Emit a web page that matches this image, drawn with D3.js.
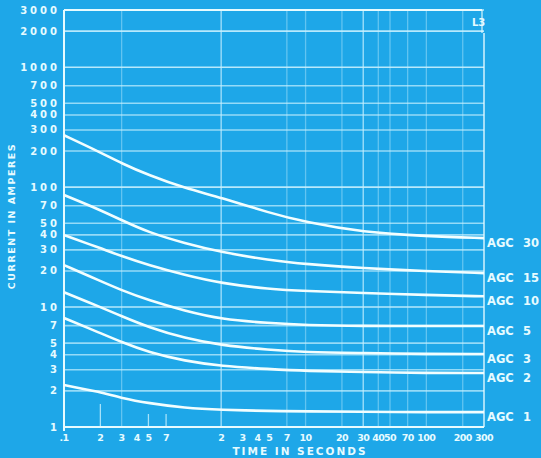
<!DOCTYPE html>
<html><head><meta charset="utf-8">
<script src="https://cdn.jsdelivr.net/npm/d3@7"></script>
<style>html,body{margin:0;padding:0;background:#1ea7e8;}svg{display:block;}</style>
</head><body>
<svg id="c" width="541" height="458"></svg>
<script>
// ---- data ----
const timeSec = [0.1, 0.2, 0.3, 0.5, 1, 2, 5, 10, 30, 100, 300];
const seriesNames = ["30", "15", "10", "5", "3", "2", "1"];
const agc30 = [271, 195, 158, 126, 98, 82, 61, 51, 42, 39, 37.6];
const agc15 = [86, 64.5, 53, 42, 34, 28.7, 24.6, 22.8, 21.1, 19.9, 19.2];
const agc10 = [39.8, 31, 26.6, 22.4, 18.5, 15.8, 14.1, 13.6, 13.1, 12.6, 12.3];
const agc5 = [22.4, 16.5, 13.8, 11.4, 9.3, 7.9, 7.35, 7.07, 6.95, 6.95, 6.95];
const agc3 = [13.3, 10, 8.4, 6.8, 5.5, 4.8, 4.4, 4.2, 4.14, 4.06, 4.06];
const agc2 = [8.1, 6.07, 5.1, 4.2, 3.55, 3.22, 3.04, 2.93, 2.87, 2.82, 2.82];
const agc1 = [2.24, 1.96, 1.74, 1.58, 1.44, 1.39, 1.36, 1.35, 1.34, 1.33, 1.33];
const yTicks = [1, 2, 3, 4, 5, 7, 10, 20, 30, 40, 50, 70, 100, 200, 300, 400, 500, 700, 1000, 2000, 3000];
const xTicks = [0.1, 0.2, 0.3, 0.4, 0.5, 0.7, 2, 3, 4, 5, 7, 10, 20, 30, 40, 50, 70, 100, 200, 300];
const xTickLabels = [".1", "2", "3", "4", "5", "7", "2", "3", "4", "5", "7", "10", "20", "30", "40", "50", "70", "100", "200", "300"];
const xGrid = [0.3, 2, 7, 10, 20, 30, 40, 50, 70, 100, 200];
const xShortTicks = [0.2, 0.5, 0.7];

const series = [agc30, agc15, agc10, agc5, agc3, agc2, agc1];

// ---- chart ----
const svg = d3.select("#c");
const L = 64, R = 484, T = 10, B = 427;
const x = d3.scaleLog().domain([0.1, 300]).range([L, R]);
const y = d3.scaleLog().domain([1, 3000]).range([B, T]);
const ink = "#e6fbff";
const font = "'DejaVu Sans', Verdana, sans-serif";

svg.append("rect").attr("width", 541).attr("height", 458).attr("fill", "#1ea7e8");

// horizontal grid
svg.append("g").selectAll("line").data(yTicks).join("line")
  .attr("x1", L).attr("x2", R)
  .attr("y1", d => y(d)).attr("y2", d => y(d))
  .attr("stroke", "#c8f1ff").attr("stroke-width", 1.6)
  .attr("opacity", d => (d === 3000 || d === 2000 || d === 1000 || d === 100 || d === 10) ? 0.9 : 0.7);

// vertical grid
svg.append("g").selectAll("line").data(xGrid).join("line")
  .attr("x1", d => x(d)).attr("x2", d => x(d))
  .attr("y1", T).attr("y2", B)
  .attr("stroke", "#c8f1ff").attr("stroke-width", 1.3)
  .attr("opacity", d => (d === 2 || d === 30) ? 0.8 : 0.4);
svg.append("g").selectAll("line").data(xShortTicks).join("line")
  .attr("x1", d => x(d)).attr("x2", d => x(d))
  .attr("y1", d => d === 0.2 ? 404 : 414).attr("y2", B)
  .attr("stroke", "#c8f1ff").attr("stroke-width", 1.3).attr("opacity", 0.8);

// frame
svg.append("line").attr("x1", L).attr("x2", L).attr("y1", T).attr("y2", B + 4).attr("stroke", ink).attr("stroke-width", 2);
svg.append("line").attr("x1", L).attr("x2", R).attr("y1", B).attr("y2", B).attr("stroke", ink).attr("stroke-width", 2);
svg.append("line").attr("x1", R).attr("x2", R).attr("y1", 33).attr("y2", B).attr("stroke", ink).attr("stroke-width", 1.6).attr("opacity", 0.85);
svg.append("line").attr("x1", L).attr("x2", R - 2).attr("y1", T).attr("y2", T).attr("stroke", ink).attr("stroke-width", 2);
svg.append("line").attr("x1", R - 2).attr("x2", R - 2).attr("y1", T).attr("y2", 33).attr("stroke", ink).attr("stroke-width", 1.4).attr("opacity", 0.8);
svg.append("text").attr("x", 472).attr("y", 26).text("L3")
  .attr("fill", ink).attr("font-family", font).attr("font-size", 10).attr("font-weight", "bold");

// curves
const line = d3.line().x((d, i) => x(timeSec[i])).y(d => y(d)).curve(d3.curveBasis);
svg.append("g").selectAll("path").data(series).join("path")
  .attr("d", d => line(d)).attr("fill", "none")
  .attr("stroke", "#f2feff").attr("stroke-width", 2.6);

// right labels
const lab = svg.append("g").attr("fill", ink).attr("font-family", font).attr("font-size", 11.5).attr("font-weight", "bold");
series.forEach((s, i) => {
  const yy = y(s[s.length - 1]) + 5;
  lab.append("text").attr("x", 487).attr("y", yy).attr("dy", "0.35em").text("AGC");
  lab.append("text").attr("x", 523).attr("y", yy).attr("dy", "0.35em").text(seriesNames[i]);
});

// y tick labels
svg.append("g").selectAll("text").data(yTicks).join("text")
  .attr("x", 60).attr("y", d => y(d)).attr("dy", "0.35em")
  .attr("text-anchor", "end").attr("fill", ink)
  .attr("font-family", font).attr("font-size", 10).attr("font-weight", "bold")
  .attr("letter-spacing", 3)
  .text(d => d3.format("d")(d));

// x tick labels
svg.append("g").selectAll("text").data(xTicks).join("text")
  .attr("x", d => x(d)).attr("y", 441)
  .attr("text-anchor", "middle").attr("fill", ink)
  .attr("font-family", font).attr("font-size", 9.5).attr("font-weight", "bold")
  .attr("letter-spacing", -0.6)
  .text((d, i) => xTickLabels[i]);

// axis titles
svg.append("text").attr("x", 300).attr("y", 455).attr("text-anchor", "middle")
  .attr("fill", ink).attr("font-family", font).attr("font-size", 10.5).attr("font-weight", "bold")
  .attr("letter-spacing", 2).text("TIME IN SECONDS");
svg.append("text").attr("transform", "translate(15,216) rotate(-90)").attr("text-anchor", "middle")
  .attr("fill", ink).attr("font-family", font).attr("font-size", 9.5).attr("font-weight", "bold")
  .attr("letter-spacing", 1.5).text("CURRENT IN AMPERES");
</script>
</body></html>
